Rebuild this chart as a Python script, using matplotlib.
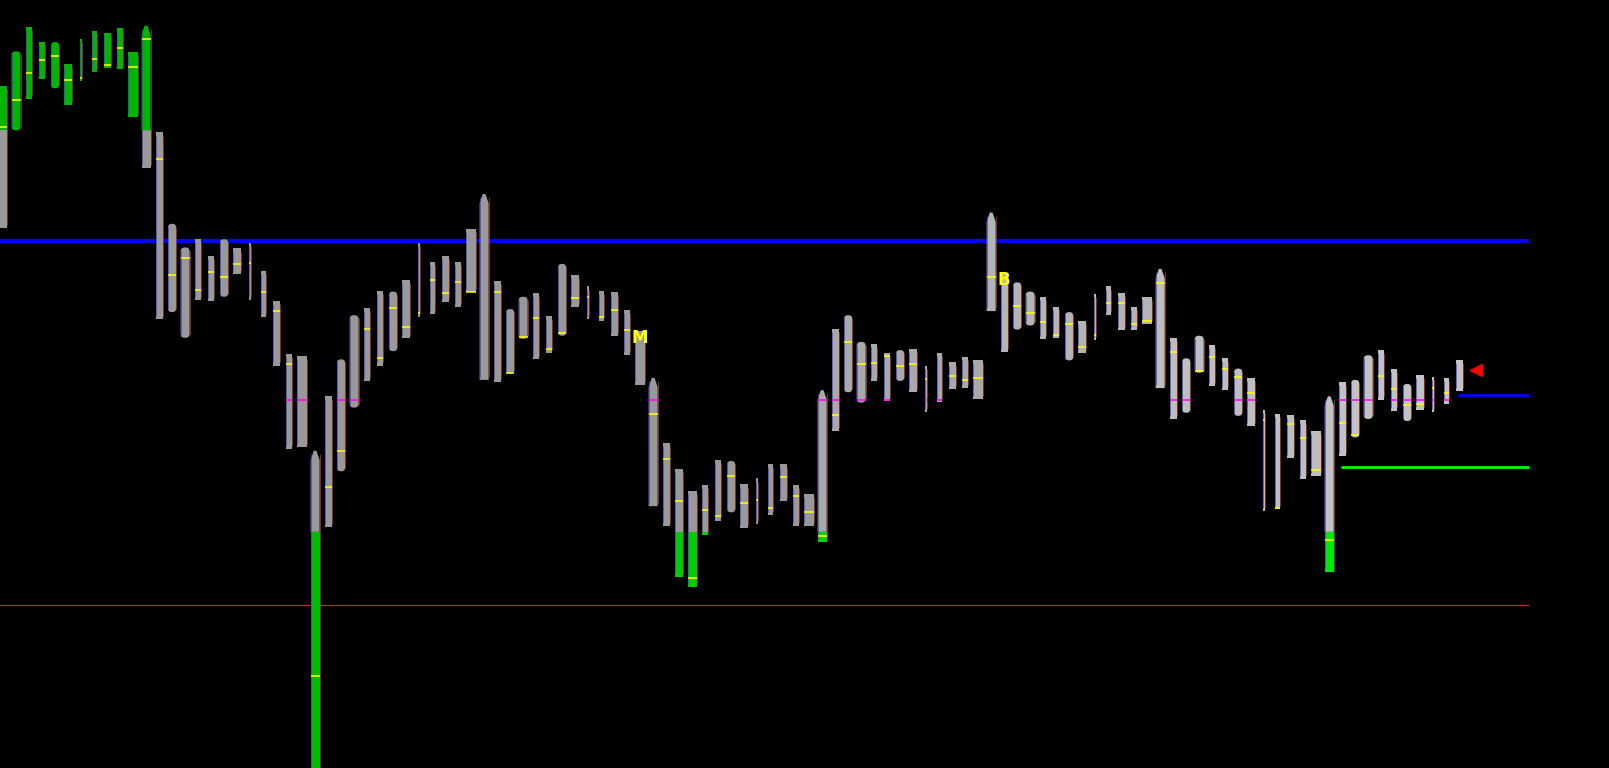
import matplotlib
matplotlib.use("Agg")
import matplotlib.pyplot as plt
from matplotlib.patches import Polygon, FancyBboxPatch
import numpy as np

# TPO periods, one bar per period, A..M each session
letters = "ABCDEFGHIJKLM"
first_letter = 2  # first bar on screen is a "C" period

highs = [664, 698, 722, 707, 707, 686, 710, 718, 716, 721, 697,
         723, 619, 530, 507, 515, 499, 515, 506, 511, 484, 455, 403, 401,
         309, 362, 398, 441, 448, 465, 464, 475, 511, 493, 499, 493, 525,
         559, 474, 447, 459, 463, 440, 491, 480, 469, 465, 464, 446, 426,
         380, 317, 291, 270, 276, 300, 299, 277, 282, 296, 296, 276, 267,
         368, 428, 441, 415, 413, 404, 407, 408, 392, 404, 395, 400, 397,
         541, 482, 473, 464, 459, 449, 444, 435, 462, 469, 463, 449, 459,
         486, 419, 399, 421, 412, 399, 389, 380, 349, 345, 344, 339, 328,
         362, 376, 378, 402, 407, 389, 374, 383, 381, 380, 397]
lows = [526, 621, 652, 671, 662, 646, 669, 678, 682, 681, 634,
        584, 437, 444, 419, 456, 455, 459, 481, 456, 439, 392, 311, 313,
        -12, 235, 289, 351, 377, 392, 406, 419, 439, 442, 454, 449, 464,
        378, 376, 384, 418, 398, 404, 421, 449, 437, 435, 421, 402, 373,
        255, 236, 186, 176, 227, 241, 249, 234, 238, 246, 260, 236, 236,
        220, 328, 366, 356, 377, 357, 377, 366, 347, 356, 369, 370, 359,
        445, 405, 427, 431, 418, 419, 397, 404, 417, 441, 427, 427, 432,
        370, 340, 346, 385, 372, 368, 343, 333, 250, 252, 302, 281, 284,
        191, 304, 322, 340, 358, 348, 338, 349, 347, 355, 367]
# yellow marks inside bars (None = no mark)
marks = [624, 651, 677, 690, 693, 670, 672, 691, 685, 701, 683,
         710, 593, 480, 497, 466, 483, 478, 491, 492, 464, 445, 393, None,
         90, 274, 309, None, 428, 399, 448, 430, 443, 475, 463, 473, 464,
         None, 464, 385, 420, 438, 408, 424, 458, 459, 439, 446, 427, None,
         345, 301, 260, 185, 251, 245, 284, 258, 261, 253, 283, 265, 249,
         226, 344, 415, 393, 394, 401, 392, 393, 379, None, 382, 378, 380,
         478, None, 450, 443, 434, 422, 432, 410, 422, 453, 453, 432, 435,
         472, 405, None, 387, 400, 389, 381, 365, 339, 253, 335, 321, 290,
         222, 336, 324, None, 382, 369, 354, 355, 370, 365, None]
poc_bars = [22, 23, 26, 27, 50, 63, 64, 66, 68, 71, 72, 90, 91, 95, 96,
            103, 104, 105, 107, 108, 109, 110, 111]
poc_level = 358
label_bars = {49: "M", 77: "B"}

upper_ext = 621
lower_ext = 230
blue_level = 513
red_level = 159
va_high = 363
va_low = 293
last_price = 388

# style
width_px = {"A": 9, "B": 7, "C": 8, "D": 9, "E": 6, "F": 6, "G": 8,
            "H": 8, "I": 2, "J": 5, "K": 7, "L": 6, "M": 10}
rounded = "CDG"
px = 13.0
aspect = 12.67  # y units per x unit in pixels
day_gray = ["#999999", "#999999", "#999999", "#999999", "#999999",
            "#a9a9a9", "#b4b4b4", "#bebebe", "#c2c2c2"]
day_green = ["#00b400", "#00b400", "#00bc00", "#00c400", "#00cc00",
             "#00d400", "#00dc00", "#00e000", "#00e800"]

fig = plt.figure(figsize=(16.09, 7.68), dpi=100, facecolor="black")
ax = fig.add_axes([0, 0, 1, 1])
ax.set_facecolor("black")
ax.set_xlim(-0.237, 123.52)
ax.set_ylim(0, 748)
ax.axis("off")

line_end = 117.4
ax.hlines(blue_level, -1, line_end, color="#0000ff", lw=3, zorder=1)
ax.hlines(red_level, -1, line_end, color="#c8281e", lw=0.9, zorder=1)

n = len(highs)
for i in range(n):
    let = letters[(i + first_letter) % 13]
    day = (i + first_letter) // 13
    w = width_px[let] / px
    hi, lo = highs[i], lows[i]
    segs = []
    if lo < lower_ext:
        segs.append((lo, min(hi, lower_ext), day_green[day]))
    g0, g1 = max(lo, lower_ext), min(hi, upper_ext)
    if g1 > g0:
        segs.append((g0, g1, day_gray[day]))
    if hi > upper_ext:
        segs.append((max(lo, upper_ext), hi, day_green[day]))
    for k, (y0, y1, c) in enumerate(segs):
        if let == "A" and k == len(segs) - 1:
            tip = 9
            pts = [(i - w / 2, y0), (i + w / 2, y0), (i + w / 2, y1 - tip),
                   (i + w * 0.15, y1), (i - w * 0.15, y1), (i - w / 2, y1 - tip)]
            ax.add_patch(Polygon(pts, closed=True, facecolor=c,
                                 edgecolor="none", zorder=2))
        elif let in rounded and len(segs) == 1:
            r = w * 0.45
            ax.add_patch(FancyBboxPatch((i - w / 2, y0), w, y1 - y0,
                                        boxstyle=f"round,pad=0,rounding_size={r}",
                                        mutation_aspect=aspect, facecolor=c,
                                        edgecolor="none", zorder=2))
        else:
            ax.bar(i, y1 - y0, bottom=y0, width=w, color=c, linewidth=0,
                   zorder=2)
    # thin coloured fringes on the bar sides
    ax.vlines(i - w / 2, lo + 3, hi - 3, color="#4040d0", lw=0.5, zorder=3)
    ax.vlines(i + w / 2, lo + 3, hi - 3, color="#c04020", lw=0.5, zorder=3)
    if marks[i] is not None:
        ax.hlines(marks[i], i - w / 2, i + w / 2, color="#ffff00", lw=1.1,
                  zorder=4)
    if i in poc_bars:
        ax.hlines(poc_level, i - w / 2, i + w / 2, color="#ff00ff", lw=1.1,
                  zorder=4)
    if i in label_bars:
        ax.text(i, hi + 2, label_bars[i], color="#ffff00", fontsize=12,
                fontweight="bold", ha="center", va="top", zorder=5)

ax.hlines(va_high, n - 1 - 0.1, line_end, color="#0000ff", lw=2, zorder=1)
ax.hlines(va_low, 102.9, line_end, color="#00ff00", lw=2, zorder=1)
ax.plot([n + 0.3], [last_price], marker="<", color="#ff0000",
        markersize=9, linestyle="none", zorder=5)

fig.savefig("out.png", dpi=100, facecolor="black")
